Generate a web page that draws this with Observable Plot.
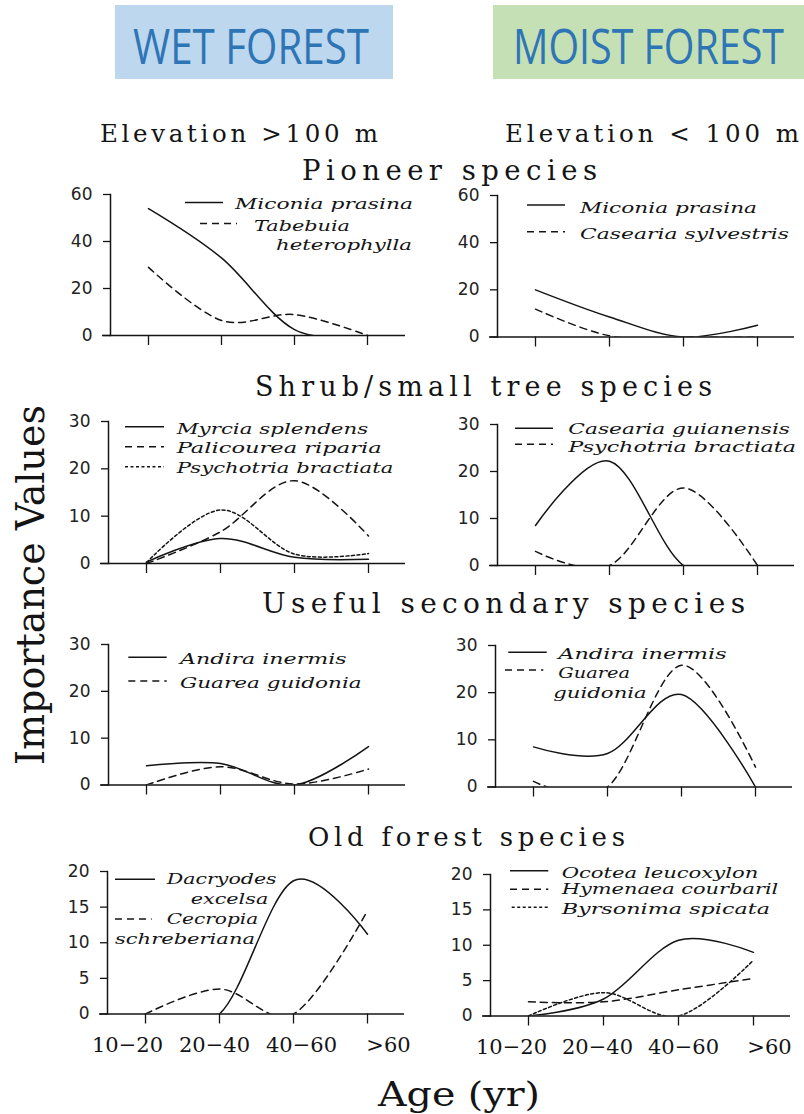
<!DOCTYPE html>
<html><head><meta charset="utf-8">
<script src="https://cdn.jsdelivr.net/npm/d3@7"></script>
<script src="https://cdn.jsdelivr.net/npm/@observablehq/plot@0.6"></script>
<style>
html,body{margin:0;padding:0;background:#fff;overflow:hidden;}
#page{position:relative;width:804px;height:1114px;background:#fff;overflow:hidden;}
#page svg{position:absolute;}
</style></head><body><div id="page"></div>
<script>
// ---------- DATA ----------
const ageLabels = ["10−20", "20−40", "40−60", ">60"];
const forestHeaders = ["WET FOREST", "MOIST FOREST"];
const elevationLabels = ["Elevation >100 m", "Elevation < 100 m"];
const groupTitles = ["Pioneer species", "Shrub/small tree species", "Useful secondary species", "Old forest species"];
const yAxisTitle = "Importance Values";
const xAxisTitle = "Age (yr)";

// Importance values at ages 10-20, 20-40, 40-60, >60
const miconiaWet   = [54, 33, 2.5, 0];
const tabebuia     = [29, 6.4, 8.9, 0];
const miconiaMoist = [20, 8.5, 0, 5];
const caseariaSylv = [11.8, 0.5, 0, 0];
const myrcia       = [0.3, 5.3, 1.3, 0.9];
const palicourea   = [0, 6.7, 17.5, 5.8];
const psychotriaWet   = [0.2, 11.3, 2, 2.1];
const caseariaGui     = [8.5, 22.2, 0, 0];
const psychotriaMoist = [3, 0, 16.5, 0];
const andiraWet   = [4.1, 4.6, 0, 8.2];
const guareaWet   = [0, 3.9, 0.2, 3.4];
const andiraMoist = [8.5, 7.1, 19.6, 0];
const guareaMoist = [1.2, 0, 25.8, 4.2];
const dacryodes = [0, 0, 18.7, 11.2];
const cecropia  = [0, 3.5, 0, 14.5];
const ocotea    = [0, 2.4, 10.7, 9.0];
const hymenaea  = [2, 2, 3.7, 5.3];
const byrsonima = [0, 3.3, 0, 7.9];

const yTicks60 = [0, 20, 40, 60];
const yTicks30 = [0, 10, 20, 30];
const yTicks20 = [0, 5, 10, 15, 20];

const panels = [
  {ymax: 60, ticks: yTicks60, series: [
    {name: "Miconia prasina", style: "solid", values: miconiaWet},
    {name: "Tabebuia heterophylla", style: "dashed", values: tabebuia}]},
  {ymax: 60, ticks: yTicks60, series: [
    {name: "Miconia prasina", style: "solid", values: miconiaMoist},
    {name: "Casearia sylvestris", style: "dashed", values: caseariaSylv}]},
  {ymax: 30, ticks: yTicks30, series: [
    {name: "Myrcia splendens", style: "solid", values: myrcia},
    {name: "Palicourea riparia", style: "dashed", values: palicourea},
    {name: "Psychotria bractiata", style: "dotted", values: psychotriaWet}]},
  {ymax: 30, ticks: yTicks30, series: [
    {name: "Casearia guianensis", style: "solid", values: caseariaGui},
    {name: "Psychotria bractiata", style: "dashed", values: psychotriaMoist}]},
  {ymax: 30, ticks: yTicks30, series: [
    {name: "Andira inermis", style: "solid", values: andiraWet},
    {name: "Guarea guidonia", style: "dashed", values: guareaWet}]},
  {ymax: 30, ticks: yTicks30, series: [
    {name: "Andira inermis", style: "solid", values: andiraMoist},
    {name: "Guarea guidonia", style: "dashed", values: guareaMoist}]},
  {ymax: 20, ticks: yTicks20, series: [
    {name: "Dacryodes excelsa", style: "solid", values: dacryodes},
    {name: "Cecropia schreberiana", style: "dashed", values: cecropia}]},
  {ymax: 20, ticks: yTicks20, series: [
    {name: "Ocotea leucoxylon", style: "solid", values: ocotea},
    {name: "Hymenaea courbaril", style: "dashed", values: hymenaea},
    {name: "Byrsonima spicata", style: "dotted", values: byrsonima}]}
];

// ---------- LAYOUT / STYLE ----------
const dashes = {solid: null, dashed: "7,5", dotted: "3,2.5"};
const ink = "#141414";
const serif = "'DejaVu Serif', 'Liberation Serif', serif";
const frames = [
  {x: 110, y: 194, w: 295, h: 141},
  {x: 496.5, y: 195, w: 297, h: 141.5},
  {x: 108, y: 421, w: 297, h: 142},
  {x: 496.5, y: 424, w: 297, h: 141},
  {x: 108, y: 644, w: 297, h: 140.5},
  {x: 495, y: 645, w: 297, h: 141.5},
  {x: 106.5, y: 871, w: 297, h: 142.5},
  {x: 490, y: 874, w: 300, h: 141.5}
];
// legend layout: per series [sampleX1, sampleX2, sampleY], text blocks [x, baseline, length]
const legendLayout = [
  [[[185,223,202.5],[[235,209,178]]], [[200,237,223.5],[[254,231,96],[276,249.5,136]]]],
  [[[527,565,205],[[580,212.7,177]]], [[527,565,231.7],[[580,239.3,209]]]],
  [[[125,164,426.7],[[176.7,433.7,191.6]]], [[125,164,446.7],[[176.7,452.7,205]]], [[125,164,466.7],[[176.7,472.7,216.6]]]],
  [[[515,553,428.3],[[568.3,434.3,221.7]]], [[515,553,444.3],[[568.3,452,227.7]]]],
  [[[128.3,166.7,657.3],[[180,663.7,166.7]]], [[128.3,166.7,681],[[180,687.7,181.7]]]],
  [[[508.3,546.7,652.3],[[558.3,659.3,168.4]]], [[505,543.3,670],[[558.3,677.7,71.7],[553.3,698.3,93.4]]]],
  [[[115,155,879.3],[[166.7,884.3,110],[190.7,904.3,77.6]]], [[115,151.7,919],[[166.7,924.3,91.6],[115,944.3,140]]]],
  [[[510,548.3,870.7],[[561.7,877.7,196.6]]], [[510,548.3,889.3],[[561.7,894.3,216.6]]], [[511.7,548.3,907.3],[[561.7,914.3,208.3]]]]
];

const page = document.getElementById("page");
const mL = 60, mT = 12, mR = 6, mB = 14;

panels.forEach((p, i) => {
  const f = frames[i];
  const rows = p.series.flatMap(s => s.values.map((v, k) => ({age: ageLabels[k], value: v, name: s.name})));
  const svg = Plot.plot({
    width: mL + f.w + mR, height: mT + f.h + mB,
    marginLeft: mL, marginTop: mT, marginRight: mR, marginBottom: mB,
    style: {background: "transparent", overflow: "visible", color: ink},
    x: {type: "point", domain: ageLabels, padding: 0.5},
    y: {domain: [0, p.ymax]},
    marks: [
      ...p.series.map(s => Plot.line(rows.filter(r => r.name === s.name), {
        x: "age", y: "value", curve: "cardinal", stroke: ink, strokeWidth: 1.5,
        strokeDasharray: dashes[s.style], clip: true})),
      Plot.frame({anchor: "left", stroke: ink, strokeWidth: 1.5}),
      Plot.ruleY([0], {stroke: ink, strokeWidth: 1.5, insetLeft: -8}),
      Plot.axisX({tickSize: 10, tickFormat: () => "", label: null, strokeWidth: 1.3}),
      Plot.axisY({ticks: p.ticks, tickSize: 7, tickPadding: 11, fontSize: 17,
        fontFamily: "DejaVu Sans", label: null, strokeWidth: 1.3, fill: "#222"})
    ]
  });
  svg.style.left = (f.x - mL) + "px";
  svg.style.top = (f.y - mT) + "px";
  page.append(svg);
});

// bottom tick label strips
const strips = [{left: 0, top: 1029.5, w: 402, r: [127, 388]}, {left: 402, top: 1031.5, w: 402, r: [108, 368]}];
strips.forEach(st => {
  const svg = Plot.plot({
    width: st.w, height: 30, margin: 0,
    style: {background: "transparent", overflow: "visible"},
    x: {type: "point", domain: ageLabels, range: st.r, padding: 0, axis: null},
    marks: [Plot.text(ageLabels, {x: d => d, text: d => d, frameAnchor: "middle",
      fontSize: 21, fontFamily: serif, fill: ink})]
  });
  svg.style.left = st.left + "px";
  svg.style.top = st.top + "px";
  page.append(svg);
});

// ---------- OVERLAY (headers, titles, legends) ----------
const ov = d3.select(page).append("svg").attr("width", 804).attr("height", 1114)
  .style("left", "0px").style("top", "0px").style("pointer-events", "none");

ov.append("rect").attr("x", 115).attr("y", 5).attr("width", 278).attr("height", 74).attr("fill", "#bdd7ee");
ov.append("rect").attr("x", 493).attr("y", 5).attr("width", 311).attr("height", 74).attr("fill", "#c5e0b4");
[[133, 236], [513, 271]].forEach(([x, len], i) => {
  const t = ov.append("text").attr("x", 0).attr("y", 0)
    .attr("font-family", "'Open Sans', 'Noto Sans', sans-serif").attr("font-size", 50).attr("fill", "#2e75b6")
    .text(forestHeaders[i]);
  const natural = t.node().getComputedTextLength();
  t.attr("transform", `translate(${x},64) scale(${len / natural},1)`);
});

// headline texts: [x, baseline, width, fontSize]
[[100, 142.3, 278, 24.5], [505, 142.3, 294, 24.5]].forEach(([x, y, len, fs], i) => {
  ov.append("text").attr("x", x).attr("y", y).attr("textLength", len).attr("lengthAdjust", "spacing")
    .attr("font-family", serif).attr("font-size", fs).attr("fill", ink).text(elevationLabels[i]);
});
[[302, 180, 295, 27.5], [255, 396, 457, 27], [262, 613, 483, 28], [308, 846, 317, 26]].forEach(([x, y, len, fs], i) => {
  ov.append("text").attr("x", x).attr("y", y).attr("textLength", len).attr("lengthAdjust", "spacing")
    .attr("font-family", serif).attr("font-size", fs).attr("fill", ink).text(groupTitles[i]);
});

ov.append("text").attr("transform", "translate(44,585) rotate(-90)").attr("text-anchor", "middle")
  .attr("textLength", 360).attr("lengthAdjust", "spacingAndGlyphs")
  .attr("font-family", serif).attr("font-size", 40).attr("fill", ink).text(yAxisTitle);
ov.append("text").attr("x", 378).attr("y", 1106).attr("textLength", 162).attr("lengthAdjust", "spacingAndGlyphs")
  .attr("font-family", serif).attr("font-size", 34).attr("fill", ink).text(xAxisTitle);

// legends
panels.forEach((p, i) => {
  p.series.forEach((s, j) => {
    const [line, blocks] = legendLayout[i][j];
    ov.append("line").attr("x1", line[0]).attr("x2", line[1]).attr("y1", line[2]).attr("y2", line[2])
      .attr("stroke", ink).attr("stroke-width", 1.4).attr("stroke-dasharray", dashes[s.style]);
    const words = s.name.split(" ");
    const parts = blocks.length === 1 ? [s.name] : [words[0], words.slice(1).join(" ")];
    blocks.forEach(([x, y, len], k) => {
      ov.append("text").attr("x", x).attr("y", y).attr("textLength", len).attr("lengthAdjust", "spacingAndGlyphs")
        .attr("font-family", serif).attr("font-style", "italic").attr("font-size", 15)
        .attr("fill", ink).text(parts[k]);
    });
  });
});
</script></body></html>
